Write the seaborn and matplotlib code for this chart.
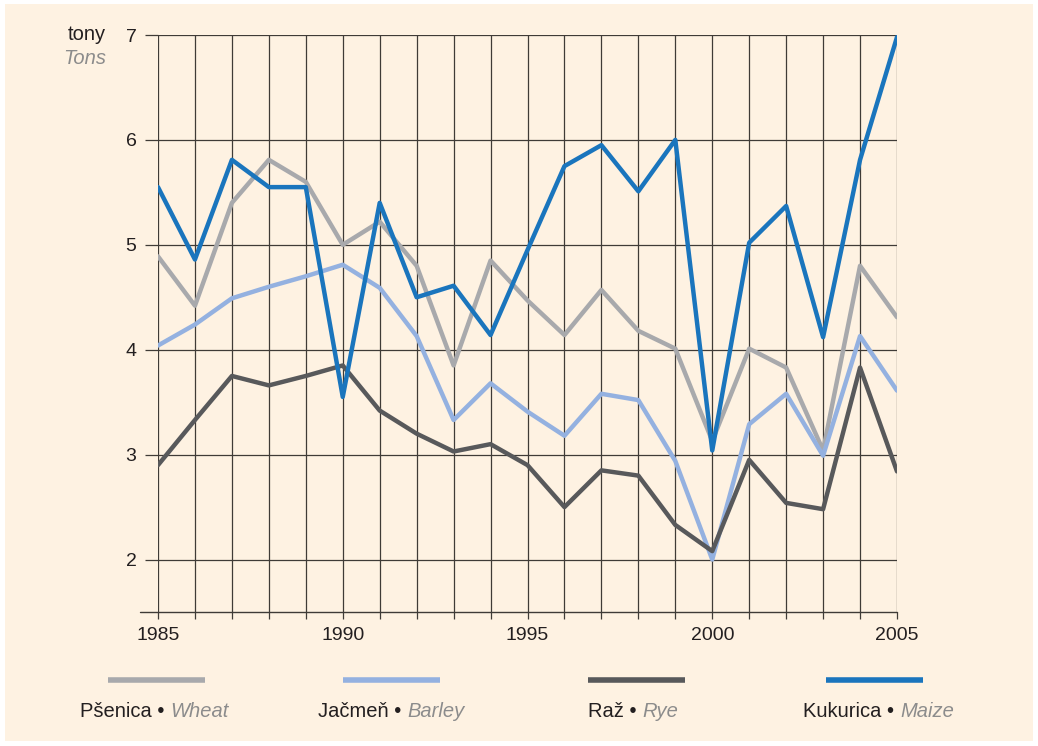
import matplotlib
matplotlib.use("Agg")
import matplotlib.pyplot as plt
import matplotlib.patches as mpatches
from matplotlib.lines import Line2D
import seaborn as sns
import pandas as pd

# Yields in tons per hectare
years = list(range(1985, 2006))
wheat = [4.89, 4.42, 5.40, 5.81, 5.60, 5.00, 5.22, 4.80, 3.85, 4.85, 4.47,
         4.14, 4.57, 4.18, 4.01, 3.13, 4.01, 3.83, 3.04, 4.80, 4.31]
barley = [4.04, 4.24, 4.49, 4.60, 4.70, 4.81, 4.59, 4.13, 3.33, 3.68, 3.41,
          3.18, 3.58, 3.52, 2.94, 2.00, 3.29, 3.58, 2.99, 4.13, 3.61]
rye = [2.90, 3.33, 3.75, 3.66, 3.75, 3.85, 3.42, 3.20, 3.03, 3.10, 2.90,
       2.50, 2.85, 2.80, 2.33, 2.08, 2.95, 2.54, 2.48, 3.83, 2.84]
maize = [5.55, 4.86, 5.81, 5.55, 5.55, 3.55, 5.40, 4.50, 4.61, 4.14, 4.95,
         5.75, 5.95, 5.51, 6.00, 3.04, 5.02, 5.37, 4.12, 5.81, 6.98]

crops = ["Wheat", "Barley", "Rye", "Maize"]
crops_sk = ["Pšenica", "Jačmeň", "Raž", "Kukurica"]
colors = ["#a8a9ac", "#94b1e0", "#58595b", "#1a75bd"]

df = pd.DataFrame({"year": years, "Wheat": wheat, "Barley": barley,
                   "Rye": rye, "Maize": maize})
long = df.melt(id_vars="year", var_name="crop", value_name="tons")

sns.set_style("white")
plt.rcParams["font.family"] = ["Liberation Sans", "DejaVu Sans"]

bg = "#fef2e2"
grid_col = "#3f3b37"

fig = plt.figure(figsize=(10.38, 7.46), dpi=100, facecolor="white")
W, H = 1038, 746
fig.patches.append(mpatches.Rectangle((5 / W, 5 / H), 1028 / W, 737 / H,
                                      transform=fig.transFigure,
                                      facecolor=bg, edgecolor="none", zorder=-10))

ax = fig.add_axes([158 / W, 1 - 612 / H, 739 / W, 577 / H])
ax.set_facecolor("none")

sns.lineplot(data=long, x="year", y="tons", hue="crop", hue_order=crops,
             palette=colors, linewidth=3.2, legend=False, ax=ax, zorder=3)

ax.set_xlim(1985, 2005)
ax.set_ylim(1.5, 7)
for s in ax.spines.values():
    s.set_visible(False)

# grid
for yv in range(2, 8):
    ax.axhline(yv, color=grid_col, lw=0.9, zorder=1)
for xv in years:
    ax.axvline(xv, color=grid_col, lw=0.9, zorder=1)
# bottom axis line, extended to the left
ax.add_line(Line2D([-0.024, 1], [0, 0], transform=ax.transAxes, color=grid_col,
                   lw=1.0, clip_on=False, zorder=2))

ax.set_yticks(range(2, 8))
ax.set_yticklabels([str(v) for v in range(2, 8)])
ax.set_xticks(years)
ax.set_xticklabels([str(y) if y % 5 == 0 else "" for y in years])
ax.tick_params(axis="y", length=9.5, width=0.9, color=grid_col, pad=6,
               labelsize=14, labelcolor="#231f20", left=True)
ax.tick_params(axis="x", length=5, width=0.9, color=grid_col, pad=6,
               labelsize=14, labelcolor="#231f20", bottom=True)
ax.set_xlabel("")
ax.set_ylabel("")

# unit label
fig.text(106 / W, 1 - 40 / H, "tony", ha="right", va="baseline",
         fontsize=14.5, color="#231f20")
fig.text(106 / W, 1 - 64 / H, "Tons", ha="right", va="baseline",
         fontsize=14.5, color="#8c8c8c", style="italic")

# legend
line_x = [108, 343, 588, 826]
text_x = [80, 318, 588, 803]
for lx, tx, c, sk, en in zip(line_x, text_x, colors, crops_sk, crops):
    fig.add_artist(Line2D([lx / W, (lx + 97) / W], [1 - 680 / H, 1 - 680 / H],
                          transform=fig.transFigure, color=c, lw=4.0,
                          solid_capstyle="butt"))
    t1 = fig.text(tx / W, 1 - 717 / H, sk + " •", ha="left", va="baseline",
                  fontsize=14.5, color="#231f20")
    fig.add_artist(plt.Annotation(en, xy=(1, 0), xycoords=t1,
                                  xytext=(4.5, 0), textcoords="offset points",
                                  ha="left", va="bottom", fontsize=14.5,
                                  color="#8c8c8c", style="italic"))

fig.savefig("out.png", dpi=100, facecolor="white")
